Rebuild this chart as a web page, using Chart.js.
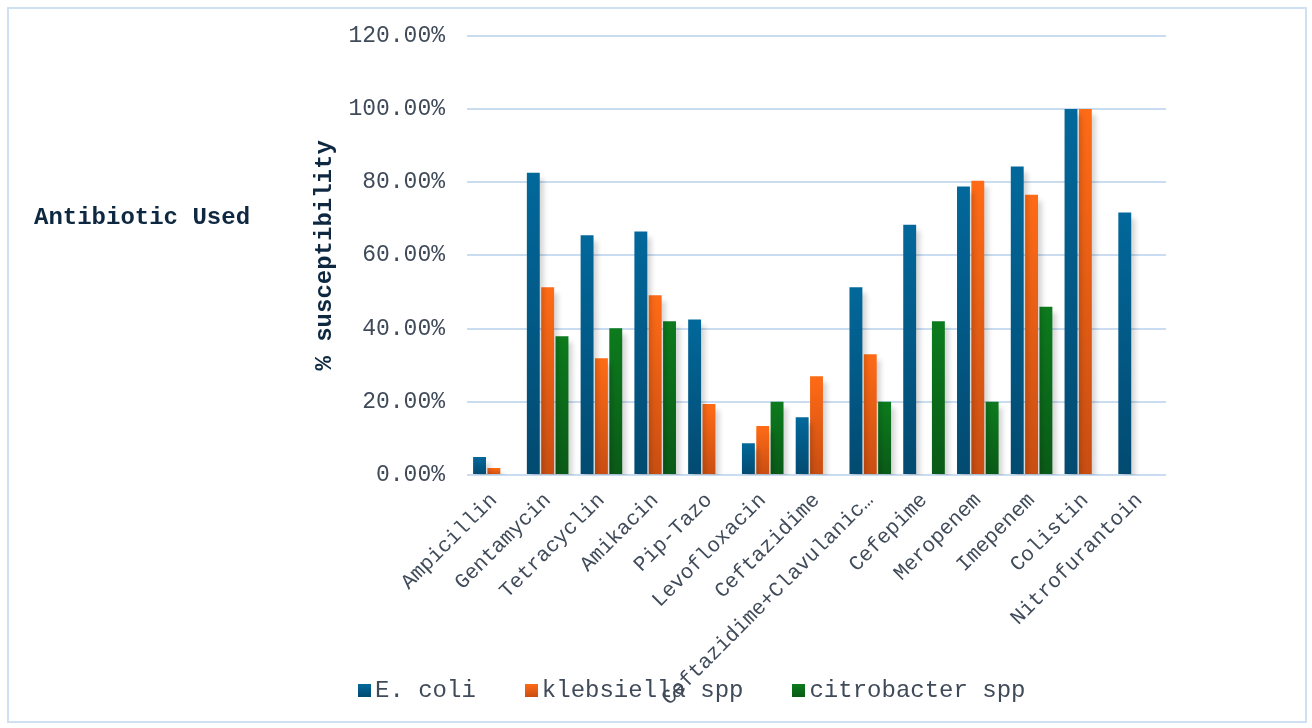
<!DOCTYPE html>
<html>
<head>
<meta charset="utf-8">
<script src="https://cdn.jsdelivr.net/npm/chart.js@4/dist/chart.umd.min.js"></script>
<style>
  html, body { margin: 0; padding: 0; background: #ffffff; }
  #wrap { position: relative; width: 1312px; height: 728px; overflow: hidden; }
  #frame { position: absolute; left: 7px; top: 7px; width: 1296px; height: 712px;
           border: 2px solid #cfe0f3; box-sizing: content-box; }
  #chart { position: absolute; left: 0; top: 0; }
  #side { position: absolute; left: 34px; top: 204px; font: bold 24px "Liberation Mono", "Courier New", monospace;
          color: #0e2841; white-space: nowrap; }
  #legend { position: absolute; left: 358px; top: 677px; display: flex; font: 24px "Liberation Mono", "Courier New", monospace;
            color: #404b5a; white-space: nowrap; }
  .item { display: flex; align-items: center; margin-right: 49px; }
  .box { width: 13px; height: 13px; margin-right: 4px; }
</style>
</head>
<body>
<div id="wrap">
  <div id="frame"></div>
  <canvas id="chart" width="1312" height="728"></canvas>
  <div id="side">Antibiotic Used</div>
  <div id="legend"></div>
</div>
<script>
// Antibiotics tested
const categories = [
  "Ampicillin", "Gentamycin", "Tetracyclin", "Amikacin", "Pip-Tazo",
  "Levofloxacin", "Ceftazidime", "Ceftazidime+Clavulanic\u2026", "Cefepime",
  "Meropenem", "Imepenem", "Colistin", "Nitrofurantoin"
];

// % susceptibility per organism
const ecoli       = [4.9, 82.6, 65.5, 66.5, 42.5, 8.7, 15.8, 51.3, 68.4, 78.8, 84.3, 100, 71.7];
const klebsiella  = [1.9, 51.3, 31.9, 49.1, 19.4, 13.4, 27.0, 33.0, 0, 80.4, 76.6, 100, 0];
const citrobacter = [0, 37.9, 40.1, 42.0, 0, 20.0, 0, 20.0, 42.0, 20.0, 46.0, 0, 0];

const seriesNames = ["E. coli", "klebsiella spp", "citrobacter spp"];

// y-axis tick values
const yTicks = [0, 20, 40, 60, 80, 100, 120];

const palette = [
  { top: "#02689b", bottom: "#024a70" },
  { top: "#ff6b16", bottom: "#c94e12" },
  { top: "#0c7b1d", bottom: "#0a5a17" }
];

const MONO = '"Liberation Mono", "Courier New", monospace';

function barFill(idx) {
  return function (ctx) {
    const chart = ctx.chart;
    const area = chart.chartArea;
    if (!area || ctx.parsed == null) return palette[idx].top;
    const y = chart.scales.y;
    const top = y.getPixelForValue(ctx.parsed.y);
    const bottom = y.getPixelForValue(0);
    if (!isFinite(top) || bottom - top < 1) return palette[idx].bottom;
    const g = chart.ctx.createLinearGradient(0, top, 0, bottom);
    g.addColorStop(0, palette[idx].top);
    g.addColorStop(1, palette[idx].bottom);
    return g;
  };
}

// soft drop shadow behind the bars
const barShadow = {
  id: "barShadow",
  beforeDatasetsDraw(chart) {
    const c = chart.ctx;
    c.save();
    c.shadowColor = "rgba(0,0,0,0.16)";
    c.shadowBlur = 5;
    c.shadowOffsetX = 4;
    c.shadowOffsetY = 6;
  },
  afterDatasetsDraw(chart) {
    chart.ctx.restore();
  }
};

const seriesData = [ecoli, klebsiella, citrobacter];

new Chart(document.getElementById("chart"), {
  type: "bar",
  data: {
    labels: categories,
    datasets: seriesData.map((d, i) => ({
      label: seriesNames[i],
      data: d,
      backgroundColor: barFill(i),
      borderWidth: 0,
      categoryPercentage: 0.8,
      barPercentage: 0.9
    }))
  },
  options: {
    responsive: false,
    animation: false,
    layout: { padding: { left: 311, right: 146, top: 35, bottom: 0 } },
    plugins: {
      legend: { display: false },
      tooltip: { enabled: false }
    },
    scales: {
      x: {
        grid: { display: false },
        border: { display: false },
        ticks: {
          font: { family: MONO, size: 21 },
          color: "#404b5a",
          minRotation: 45,
          maxRotation: 45,
          autoSkip: false,
          padding: 5
        },
        afterFit(scale) { scale.height = 253; }
      },
      y: {
        min: 0,
        max: 120,
        afterBuildTicks(scale) { scale.ticks = yTicks.map(v => ({ value: v })); },
        grid: { color: "#cadcf0", lineWidth: 2, drawTicks: false },
        border: { display: false },
        ticks: {
          font: { family: MONO, size: 23 },
          color: "#404b5a",
          padding: 22,
          callback: v => v.toFixed(2) + "%"
        },
        title: {
          display: true,
          text: "% susceptibility",
          font: { family: MONO, size: 24, weight: "bold" },
          color: "#0e2841",
          padding: { top: 0, bottom: 0 }
        },
        afterFit(scale) { scale.width = 156; }
      }
    }
  },
  plugins: [barShadow]
});

// legend row
const legend = document.getElementById("legend");
seriesNames.forEach((name, i) => {
  const item = document.createElement("div");
  item.className = "item";
  const box = document.createElement("div");
  box.className = "box";
  box.style.background = "linear-gradient(" + palette[i].top + "," + palette[i].bottom + ")";
  const txt = document.createElement("span");
  txt.textContent = name;
  item.appendChild(box);
  item.appendChild(txt);
  legend.appendChild(item);
});
</script>
</body>
</html>
